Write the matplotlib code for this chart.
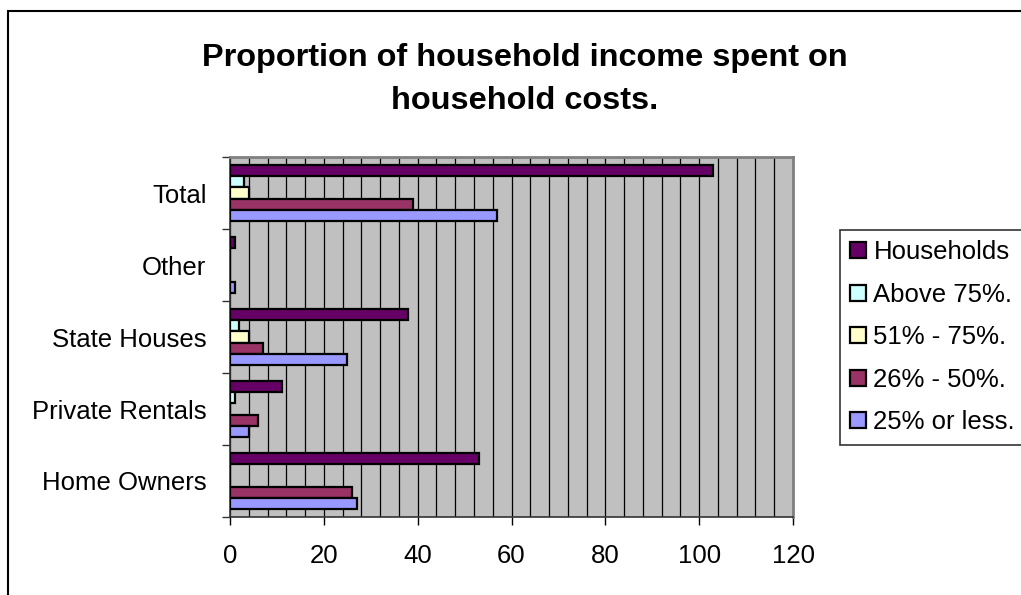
import numpy as np
import matplotlib
matplotlib.use("Agg")
import matplotlib.pyplot as plt
from matplotlib.patches import Rectangle
from matplotlib.ticker import MultipleLocator, FixedLocator

plt.rcParams['font.family'] = ['Liberation Sans', 'DejaVu Sans']

# categories from bottom to top
categories = ["Home Owners", "Private Rentals", "State Houses", "Other", "Total"]
series_names = ["Households", "Above 75%.", "51% - 75%.", "26% - 50%.", "25% or less."]
households = [53, 11, 38, 1, 103]
above_75 = [0, 1, 2, 0, 3]
from_51_to_75 = [0, 0, 4, 0, 4]
from_26_to_50 = [26, 6, 7, 0, 39]
up_to_25 = [27, 4, 25, 1, 57]
colors = ["#660066", "#CCFFFF", "#FFFFCC", "#993366", "#9999FF"]

series = [households, above_75, from_51_to_75, from_26_to_50, up_to_25]

fig = plt.figure(figsize=(10.21, 5.95), dpi=100)
ax = fig.add_axes([230 / 1021, 1 - 517 / 595, 563 / 1021, 360 / 595])
ax.set_facecolor("#C0C0C0")

y = np.arange(len(categories))
h = 0.158
for i, vals in enumerate(series):
    ax.barh(y + (2 - i) * h, vals, height=h, color=colors[i],
            edgecolor="black", linewidth=1.6, label=series_names[i], zorder=3)

ax.set_xlim(0, 120)
ax.set_ylim(-0.5, 4.5)
ax.xaxis.set_major_locator(MultipleLocator(20))
ax.xaxis.set_minor_locator(MultipleLocator(4))
ax.grid(True, axis="x", which="both", color="black", linewidth=0.9, zorder=1)
ax.set_axisbelow(True)

ax.set_yticks(y)
ax.set_yticklabels(categories)
ax.yaxis.set_minor_locator(FixedLocator(np.arange(-0.5, 5, 1.0)))
ax.tick_params(axis="y", which="major", length=0, pad=17, labelsize=18.5)
ax.tick_params(axis="y", which="minor", length=5.5, width=1, color="#333333")
ax.tick_params(axis="x", which="major", length=5.5, width=1, pad=14, labelsize=18.5)
ax.tick_params(axis="x", which="minor", length=0)

for s in ["top", "right"]:
    ax.spines[s].set_color("#808080")
    ax.spines[s].set_linewidth(2)
for s in ["left", "bottom"]:
    ax.spines[s].set_color("#333333")
    ax.spines[s].set_linewidth(1.2)

leg = fig.legend(loc="upper left", bbox_to_anchor=(840 / 1021, 1 - 230 / 595),
                 fontsize=18.5, frameon=True, fancybox=False, edgecolor="black",
                 handlelength=0.6, handleheight=0.6, handletextpad=0.3,
                 labelspacing=0.72, borderpad=0.4, borderaxespad=0)
leg.get_frame().set_linewidth(1.2)

fig.text(525 / 1021, 1 - 43 / 595,
         "Proportion of household income spent on\nhousehold costs.",
         ha="center", va="top", fontsize=23.4, fontweight="bold", linespacing=1.55)

fig.patches.append(Rectangle((8 / 1021, -0.1), 1.2, (595 - 11) / 595 + 0.1,
                             transform=fig.transFigure, fill=False,
                             edgecolor="black", linewidth=1.5))

fig.savefig("out.png", dpi=100)
